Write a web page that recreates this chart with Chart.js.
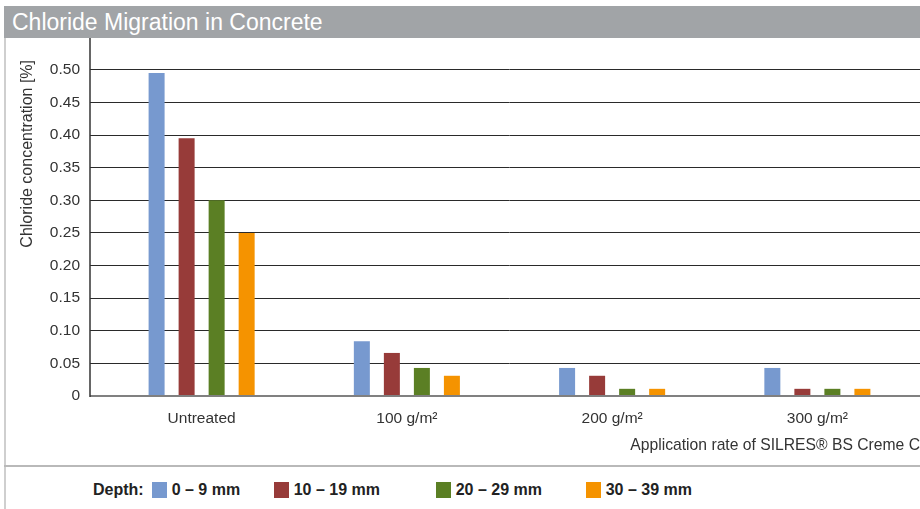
<!DOCTYPE html>
<html>
<head>
<meta charset="utf-8">
<script src="https://cdn.jsdelivr.net/npm/chart.js@4.4.1/dist/chart.umd.min.js"></script>
<style>
	body { margin: 0; width: 920px; height: 509px; background: #fff; position: relative; overflow: hidden; font-family: 'Liberation Sans', Arial, sans-serif; }
	#title-bar { position: absolute; left: 4px; top: 6px; width: 916px; height: 32px; background: #a1a4a7; color: #fff; font-size: 23px; line-height: 32px; padding-left: 8px; box-sizing: border-box; }
	#panel { position: absolute; left: 4px; top: 38px; width: 916px; height: 471px; border-left: 2px solid #cfcfcf; box-sizing: border-box; }
	#separator { position: absolute; left: 4px; top: 465px; width: 916px; height: 2px; background: #b9b9b9; }
	#chart-wrap { position: absolute; left: 0; top: 38px; width: 920px; height: 427px; }
	#legend { position: absolute; left: 93px; top: 481px; display: flex; align-items: center; font-size: 16px; font-weight: bold; color: #222; line-height: 18px; }
	.legend-item { display: flex; align-items: center; }
	.legend-key { width: 15px; height: 16px; margin-right: 5px; }
</style>
</head>
<body>
<div id="title-bar">Chloride Migration in Concrete</div>
<div id="panel"></div>
<div id="chart-wrap"><canvas id="bar-canvas"></canvas></div>
<div id="separator"></div>
<div id="legend"></div>
<script>
let categories = ['Untreated', '100 g/m\u00B2', '200 g/m\u00B2', '300 g/m\u00B2'];
let depth_labels = ['0 \u2013 9 mm', '10 \u2013 19 mm', '20 \u2013 29 mm', '30 \u2013 39 mm'];
let depth_0_9 = [0.495, 0.084, 0.043, 0.043];
let depth_10_19 = [0.395, 0.066, 0.031, 0.011];
let depth_20_29 = [0.30, 0.043, 0.011, 0.011];
let depth_30_39 = [0.25, 0.031, 0.011, 0.011];
let bar_colors = ['#7799cf', '#973b39', '#5b7f24', '#f59300'];
let legend_slot_widths = [122, 162, 150, 120];

let series = [depth_0_9, depth_10_19, depth_20_29, depth_30_39];
let datasets = [];
for (var i = 0; i < series.length; i++) {
	datasets.push({
		label: depth_labels[i],
		data: series[i],
		backgroundColor: bar_colors[i],
		borderWidth: 0,
		categoryPercentage: 0.585,
		barPercentage: 0.533
	});
};

//draws the y axis line from the top of the panel down to zero
let axisLinePlugin = {
	id: 'axisLine',
	afterDraw: function(chart) {
		let ctx = chart.ctx;
		let x = chart.chartArea.left - 9;
		ctx.save();
		ctx.strokeStyle = '#333333';
		ctx.lineWidth = 1.5;
		ctx.beginPath();
		ctx.moveTo(x, 0);
		ctx.lineTo(x, chart.chartArea.bottom + 1);
		ctx.stroke();
		ctx.restore();
	}
};

let context = document.getElementById('bar-canvas').getContext('2d');
let bar_chart = new Chart(context, {
	type: 'bar',
	data: {
		labels: categories,
		datasets: datasets
	},
	plugins: [axisLinePlugin],
	options: {
		responsive: true,
		maintainAspectRatio: false,
		animation: false,
		layout: {
			padding: { top: 22, right: 0, bottom: 0, left: 0 }
		},
		plugins: {
			legend: { display: false },
			tooltip: { enabled: false }
		},
		scales: {
			x: {
				afterFit: function(scale) { scale.height = 69; },
				grid: { display: false, drawTicks: false },
				border: { display: false },
				ticks: {
					color: '#333333',
					padding: 13,
					font: { family: 'Liberation Sans', size: 15.5 }
				},
				title: {
					display: true,
					text: 'Application rate of SILRES\u00AE BS Creme C',
					align: 'end',
					color: '#333333',
					padding: { top: 0, bottom: 10 },
					font: { family: 'Liberation Sans', size: 15.7 }
				}
			},
			y: {
				min: 0,
				max: 0.515,
				afterFit: function(scale) { scale.width = 99; },
				border: { display: false },
				grid: {
					drawTicks: true,
					tickLength: 9,
					color: function(c) { return c.tick && c.tick.value === 0 ? '#808080' : '#2a2a2a'; },
					lineWidth: function(c) { return c.tick && c.tick.value === 0 ? 2 : 1; }
				},
				ticks: {
					stepSize: 0.05,
					includeBounds: false,
					padding: 10,
					color: '#333333',
					font: { family: 'Liberation Sans', size: 15.5 },
					callback: function(val) { return val === 0 ? '0' : val.toFixed(2); }
				},
				title: {
					display: true,
					text: 'Chloride concentration [%]',
					align: 'end',
					color: '#333333',
					padding: { top: 18, bottom: 0 },
					font: { family: 'Liberation Sans', size: 16 }
				}
			}
		}
	}
});

//add legend elements
let legend_div = document.getElementById('legend');
legend_div.innerHTML = "<span style='margin-right:8px'>Depth:</span>";
for (var i = 0; i < bar_chart.data.datasets.length; i++) {
	legend_div.innerHTML +=
		`<div class='legend-item' style='width:${legend_slot_widths[i]}px'>
			<div class='legend-key' style='background-color:${bar_chart.data.datasets[i].backgroundColor};'></div>
			${bar_chart.data.datasets[i].label}
		</div>`;
};
</script>
</body>
</html>
